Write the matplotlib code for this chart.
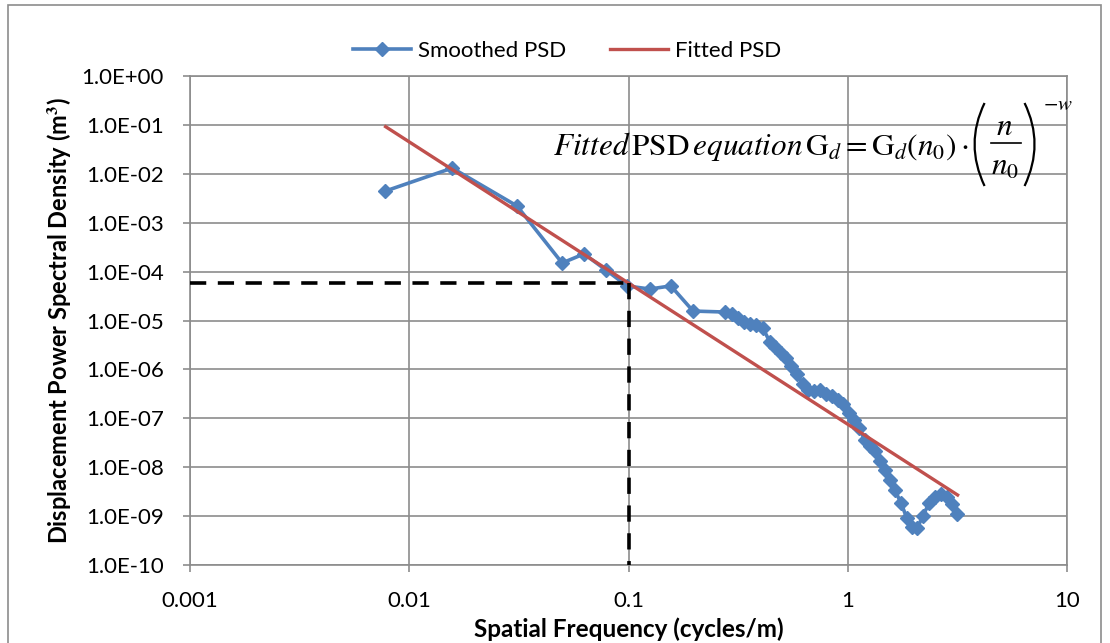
import matplotlib
matplotlib.use('Agg')
import matplotlib.pyplot as plt
from matplotlib.patches import Rectangle, PathPatch
from matplotlib.path import Path
from matplotlib.lines import Line2D
from matplotlib.ticker import FixedLocator, FuncFormatter, NullLocator

# smoothed PSD
freq = [0.00774, 0.0157, 0.0310, 0.0498, 0.0627, 0.0789, 0.0984, 0.125, 0.156, 0.197,
        0.275, 0.296, 0.316, 0.337, 0.358, 0.382, 0.410, 0.442, 0.466, 0.497,
        0.522, 0.551, 0.586, 0.625, 0.659, 0.701, 0.746, 0.796, 0.847, 0.903,
        0.951, 1.01, 1.07, 1.12, 1.20, 1.26, 1.33, 1.40, 1.48, 1.56,
        1.64, 1.75, 1.86, 1.96, 2.07, 2.20, 2.35, 2.50, 2.66, 2.84,
        2.99, 3.15]
psd = [4.4e-3, 1.31e-2, 2.2e-3, 1.5e-4, 2.3e-4, 1.08e-4, 5.1e-5, 4.4e-5, 5.1e-5, 1.56e-5,
       1.49e-5, 1.36e-5, 1.12e-5, 9.3e-6, 8.5e-6, 8.1e-6, 7.0e-6, 3.6e-6, 2.9e-6, 2.2e-6,
       1.7e-6, 1.17e-6, 8.1e-7, 5.0e-7, 3.8e-7, 3.6e-7, 3.8e-7, 3.1e-7, 2.9e-7, 2.4e-7,
       2.0e-7, 1.28e-7, 9.2e-8, 6.3e-8, 3.6e-8, 2.7e-8, 2.1e-8, 1.34e-8, 8.8e-9, 5.5e-9,
       3.4e-9, 1.85e-9, 9.1e-10, 6.0e-10, 5.6e-10, 1.0e-9, 1.85e-9, 2.45e-9, 2.8e-9, 2.45e-9,
       1.77e-9, 1.1e-9]

# fitted line end points
fit_x = [0.0078, 3.17]
fit_y = [0.092, 2.7e-9]

# reference point n0
n0 = 0.1
g0 = 5.9e-5

x_ticks = [0.001, 0.01, 0.1, 1, 10]
x_labels = ['0.001', '0.01', '0.1', '1', '10']
y_ticks = [10.0 ** -k for k in range(0, 11)]

plt.rcParams['font.family'] = ['Lato', 'DejaVu Sans']
plt.rcParams['mathtext.fontset'] = 'stix'

W, H = 1110, 643
fig = plt.figure(figsize=(W / 100, H / 100), dpi=100)
ax = fig.add_axes([190 / W, 1 - 565 / H, 877 / W, 489 / H])

blue = '#4F81BD'
red = '#C0504D'
grid = '#8C8C8C'

ax.plot(freq, psd, color=blue, lw=2.6, marker='D', ms=7, label='Smoothed PSD', zorder=3)
ax.plot(fit_x, fit_y, color=red, lw=2.4, label='Fitted PSD', zorder=4)

# dashed guide lines at n0
ax.plot([1e-3, n0], [g0, g0], color='black', lw=2.6, ls=(0, (4.5, 3.2)), zorder=5)
ax.plot([n0, n0], [g0, 1e-10], color='black', lw=2.6, ls=(0, (4.5, 3.2)), zorder=5)

ax.set_xscale('log')
ax.set_yscale('log')
ax.set_xlim(1e-3, 10)
ax.set_ylim(1e-10, 1)

ax.xaxis.set_major_locator(FixedLocator(x_ticks))
ax.xaxis.set_major_formatter(FuncFormatter(lambda v, p: x_labels[x_ticks.index(v)] if v in x_ticks else ''))
ax.xaxis.set_minor_locator(NullLocator())
ax.yaxis.set_major_locator(FixedLocator(y_ticks))
ax.yaxis.set_major_formatter(FuncFormatter(lambda v, p: '%.1E' % v))
ax.yaxis.set_minor_locator(NullLocator())

ax.grid(True, color=grid, lw=1.2)
for s in ax.spines.values():
    s.set_color(grid)
    s.set_linewidth(1.2)
ax.tick_params(colors=grid, labelcolor='black', labelsize=16, length=5, width=1.2)
ax.tick_params(axis='x', pad=14)
ax.tick_params(axis='y', pad=14)

ax.set_xlabel('Spatial Frequency (cycles/m)', fontsize=17.5, fontweight='bold', labelpad=4)
ax.set_ylabel('Displacement Power Spectral Density (m$^\\mathbf{3}$)', fontsize=17,
              fontweight='bold', labelpad=6)

fig.legend(loc='upper center', bbox_to_anchor=(0.511, 0.968), ncol=2, frameon=False,
           fontsize=16, handlelength=2.6, columnspacing=2.0, handletextpad=0.3)

fig.patches.append(Rectangle((8 / W, -0.01), 1093 / W, 1.0 - 5 / H + 0.01,
                             transform=fig.transFigure, fill=False, ec=grid, lw=1.2))


def fx(px):
    return px / W


def fy(py):
    return 1 - py / H


# equation label, big bracketed fraction drawn piece by piece
eq = fig.text(fx(553), fy(155),
              r'$\mathit{Fitted}\,\mathrm{PSD}\,\mathit{equation}\,\mathrm{G}_d = \mathrm{G}_d\left(n_0\right)\cdot$',
              fontsize=22.5, ha='left', va='baseline', zorder=6)
fig.canvas.draw()
x1 = eq.get_window_extent(fig.canvas.get_renderer()).x1  # pixels from left

top, mid, bot = 103, 144, 186
for xe, xc in [(x1 + 16, x1 - 4), (x1 + 56, x1 + 76)]:
    paren = Path([(fx(xe), fy(top)), (fx(xc), fy(mid)), (fx(xe), fy(bot))],
                 [Path.MOVETO, Path.CURVE3, Path.CURVE3])
    fig.add_artist(PathPatch(paren, transform=fig.transFigure, fill=False,
                             ec='black', lw=1.6))
fig.add_artist(Line2D([fx(x1 + 22), fx(x1 + 52)], [fy(mid - 1), fy(mid - 1)],
                      transform=fig.transFigure, color='black', lw=1.2))
fig.text(fx(x1 + 36), fy(135), r'$n$', fontsize=22.5, ha='center', va='baseline')
fig.text(fx(x1 + 22), fy(175), r'$n_0$', fontsize=22.5, ha='left', va='baseline')
fig.text(fx(x1 + 74), fy(110), r'$-w$', fontsize=15, ha='left', va='baseline')

fig.savefig('out.png', dpi=100)
